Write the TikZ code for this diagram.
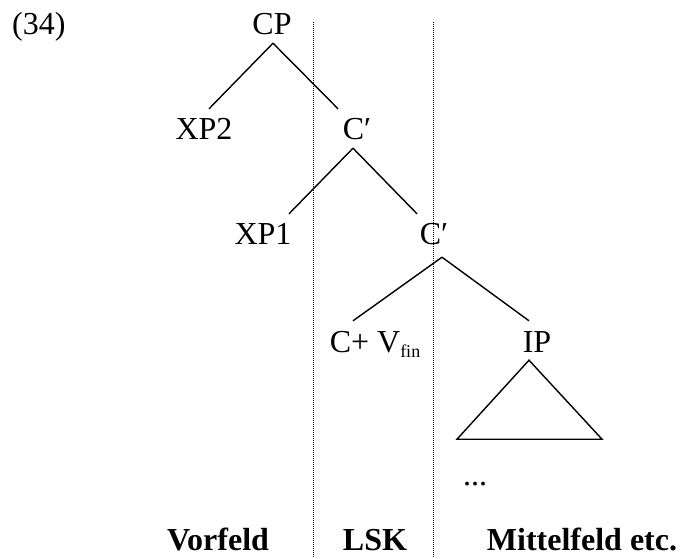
\documentclass[tikz,border=0pt]{standalone}
\usepackage{fontspec}
\setmainfont{Liberation Serif}
\begin{document}
\begin{tikzpicture}[x=1pt,y=1pt,
  lbl/.style={inner sep=0pt, anchor=base, font=\fontsize{32}{38}\selectfont, text height=31pt, text depth=8pt},
  fld/.style={inner sep=0pt, anchor=base, font=\fontsize{32}{38}\selectfont\bfseries},
  edge/.style={line width=1.4pt},
  sep/.style={line width=1pt, dash pattern=on 1pt off 1pt}]
\useasboundingbox (0,0) rectangle (686,558);
% field separators
\coordinate (s1t) at (313,536);
\coordinate (s1b) at (313,0);
\coordinate (s2t) at (433,536);
\coordinate (s2b) at (433,0);
\draw[sep] (s1t) -- (s1b);
\draw[sep] (s2t) -- (s2b);
% example number
\node[lbl, anchor=base west] (ex) at (12,523) {(34)};
% tree nodes
\node[lbl] (CP) at (272,523) {CP};
\node[lbl] (XP2) at (204,418) {XP2};
\node[lbl] (C1) at (357,418) {C′};
\node[lbl] (XP1) at (263,313) {XP1};
\node[lbl] (C2) at (434,313) {C′};
\node[lbl] (CV) at (375,206) {C+ V\raisebox{-5pt}{\fontsize{18}{18}\selectfont fin}};
\node[lbl] (IP) at (537,206) {IP};
\node[inner sep=0pt, anchor=base, font=\fontsize{32}{38}\selectfont] (dots) at (475,73) {...};
% branches
\draw[edge] ([xshift=1pt]CP.south) -- ([xshift=5pt]XP2.north);
\draw[edge] ([xshift=1pt]CP.south) -- ([xshift=-19pt]C1.north);
\draw[edge] ([xshift=-4pt]C1.south) -- ([xshift=26pt]XP1.north);
\draw[edge] ([xshift=-4pt]C1.south) -- ([xshift=-17pt]C2.north);
\draw[edge] ([xshift=8pt,yshift=-4pt]C2.south) -- ([xshift=-22pt]CV.north);
\draw[edge] ([xshift=8pt,yshift=-4pt]C2.south) -- ([xshift=-8pt]IP.north);
% triangle under IP
\draw[edge, line join=miter] ([xshift=-8pt]IP.south) -- ++(-72,-79) -- ++(145,0) -- cycle;
% field labels
\node[fld] (vf) at (218,8) {Vorfeld};
\node[fld] (lsk) at (375,8) {LSK};
\node[fld] (mf) at (582,8) {Mittelfeld etc.};
\end{tikzpicture}
\end{document}
